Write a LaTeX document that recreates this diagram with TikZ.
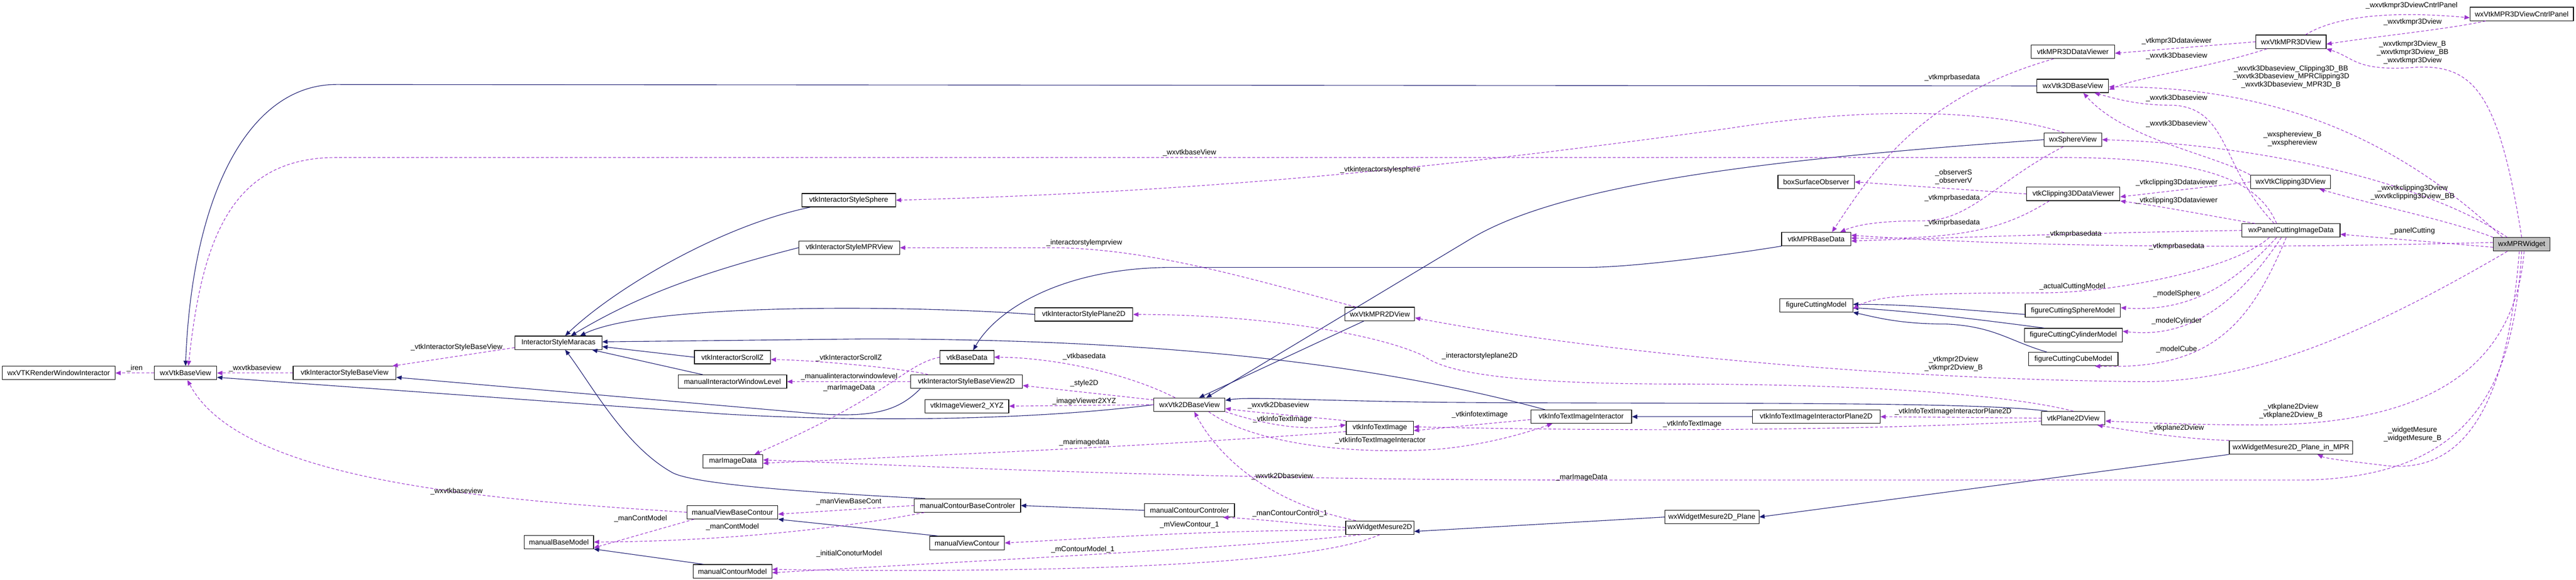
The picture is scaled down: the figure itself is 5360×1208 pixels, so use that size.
\documentclass[tikz,border=0pt]{standalone}
\usepackage{fontspec}
\setmainfont{Liberation Sans}
\usetikzlibrary{arrows.meta}
\definecolor{inhc}{RGB}{25,25,112}
\definecolor{usec}{RGB}{154,50,205}
\definecolor{mwfill}{RGB}{191,191,191}
\begin{document}
\begin{tikzpicture}[x=1pt,y=-1pt,
  cls/.style={draw=black,line width=1.3pt,minimum height=28pt,inner sep=0pt,font=\fontsize{15}{17}\selectfont,fill=white},
  lab/.style={inner sep=0pt,font=\fontsize{15}{17}\selectfont,align=center},
  inh/.style={draw=inhc,line width=1.2pt,-{Triangle[length=11pt,width=9pt]}},
  use/.style={draw=usec,line width=1.2pt,dash pattern=on 6pt off 4pt,-{Triangle[length=11pt,width=9pt]}}]
\useasboundingbox (0,0) rectangle (5360,1208);
% nodes
\node[cls,minimum width=235] (rwi) at (122,777) {wxVTKRenderWindowInteractor};
\node[cls,minimum width=130] (bv) at (386,777) {wxVtkBaseView};
\node[cls,minimum width=214] (isbv) at (717,777) {vtkInteractorStyleBaseView};
\node[cls,minimum width=181] (ism) at (1162,714) {InteractorStyleMaracas};
\node[cls,minimum width=158] (scz) at (1524,744) {vtkInteractorScrollZ};
\node[cls,minimum width=226] (iwl) at (1524,795) {manualInteractorWindowLevel};
\node[cls,minimum width=195] (iss) at (1766,417) {vtkInteractorStyleSphere};
\node[cls,minimum width=210] (ismpr) at (1767,516) {vtkInteractorStyleMPRView};
\node[cls,minimum width=204] (isp2) at (2255,655) {vtkInteractorStylePlane2D};
\node[cls,minimum width=112] (bd) at (2012,744) {vtkBaseData};
\node[cls,minimum width=233] (isbv2) at (2011,795) {vtkInteractorStyleBaseView2D};
\node[cls,minimum width=174] (iv) at (2012,846) {vtkImageViewer2\_XYZ};
\node[cls,minimum width=148] (v2d) at (2475,843) {wxVtk2DBaseView};
\node[cls,minimum width=221] (mcbc) at (2013,1053) {manualContourBaseControler};
\node[cls,minimum width=187] (mcc) at (2475,1063) {manualContourControler};
\node[cls,minimum width=156] (mvc) at (2012,1131) {manualViewContour};
\node[cls,minimum width=124] (mid) at (1525,961) {marImageData};
\node[cls,minimum width=189] (mvbc) at (1524,1067) {manualViewBaseContour};
\node[cls,minimum width=144] (mbm) at (1163,1129) {manualBaseModel};
\node[cls,minimum width=164] (mcm) at (1524,1190) {manualContourModel};
\node[cls,minimum width=145] (mpr2d) at (2871,654) {wxVtkMPR2DView};
\node[cls,minimum width=140] (iti) at (2871,891) {vtkInfoTextImage};
\node[cls,minimum width=210] (itii) at (3290,868) {vtkInfoTextImageInteractor};
\node[cls,minimum width=174] (mpr3ddv) at (4313,108) {vtkMPR3DDataViewer};
\node[cls,minimum width=149] (v3d) at (4313,179) {wxVtk3DBaseView};
\node[cls,minimum width=120] (sph) at (4313,291) {wxSphereView};
\node[cls,minimum width=159] (bso) at (3779,379) {boxSurfaceObserver};
\node[cls,minimum width=194] (c3ddv) at (4314,404) {vtkClipping3DDataViewer};
\node[cls,minimum width=144] (mbd) at (3779,498) {vtkMPRBaseData};
\node[cls,minimum width=152] (fcm) at (3779,636) {figureCuttingModel};
\node[cls,minimum width=198] (fcs) at (4313,647) {figureCuttingSphereModel};
\node[cls,minimum width=204] (fccy) at (4314,698) {figureCuttingCylinderModel};
\node[cls,minimum width=186] (fccu) at (4314,748) {figureCuttingCubeModel};
\node[cls,minimum width=266] (itip2) at (3779,868) {vtkInfoTextImageInteractorPlane2D};
\node[cls,minimum width=132] (p2d) at (4314,871) {vtkPlane2DView};
\node[cls,minimum width=146] (mpr3d) at (4767,87) {wxVtkMPR3DView};
\node[cls,minimum width=215] (cp) at (5247,29) {wxVtkMPR3DViewCntrlPanel};
\node[cls,minimum width=166] (c3d) at (4766,379) {wxVtkClipping3DView};
\node[cls,minimum width=204] (pci) at (4767,480) {wxPanelCuttingImageData};
\node[cls,minimum width=118,fill=mwfill] (mw) at (5247,509) {wxMPRWidget};
\node[cls,minimum width=257] (wm2p) at (4767,932) {wxWidgetMesure2D\_Plane\_in\_MPR};
\node[cls,minimum width=142] (wm2d) at (2871,1099) {wxWidgetMesure2D};
\node[cls,minimum width=196] (wm2dp) at (3562,1077) {wxWidgetMesure2D\_Plane};
% inheritance
\begin{scope}[on background layer/.style={}]
\draw[inh] (v3d.west) -- (700,176) .. controls (520,176) and (400,400) .. (bv.north);
\draw[inh] (v2d.west) .. controls (2150,875) and (1800,880) .. (1500,862) -- ([yshift=-9]bv.east);
\draw[inh] ([xshift=-96]isbv2.south) .. controls (1870,855) and (1820,870) .. (1700,862) -- ([yshift=-9]isbv.east);
\draw[inh] ([xshift=-88]mcbc.north) .. controls (1700,1027) and (1450,1010) .. (1400,985) .. controls (1300,930) and (1230,800) .. ([xshift=14]ism.south);
\draw[inh] ([xshift=-80]iss.south) .. controls (1500,470) and (1280,600) .. ([xshift=14]ism.north);
\draw[inh] (ismpr.west) .. controls (1450,570) and (1320,620) .. ([xshift=26]ism.north);
\draw[inh] (isp2.west) .. controls (1900,636) and (1350,630) .. ([xshift=45]ism.north);
\draw[inh] ([xshift=-75]itii.north) .. controls (2800,740) and (2300,706) .. (1800,706) -- ([yshift=2]ism.east);
\draw[inh] (scz.west) -- ([yshift=-8]ism.east);
\draw[inh] ([xshift=-62]iwl.north) -- ([xshift=70]ism.south);
\draw[inh] ([xshift=-33]mpr2d.south) -- ([xshift=20]v2d.north);
\draw[inh] ([xshift=-54]p2d.north) .. controls (4100,835) and (3500,842) .. (3000,838) .. controls (2700,834) and (2600,826) .. ([yshift=9]v2d.east);
\draw[inh] (sph.west) .. controls (3700,330) and (3250,380) .. (3056,500) -- ([xshift=35]v2d.north);
\draw[inh] ([xshift=-72]mbd.south) .. controls (3600,530) and (3400,557) .. (3300,557) -- (2430,557) .. controls (2200,560) and (2070,650) .. ([xshift=13]bd.north);
\draw[inh] ([yshift=-8]fcs.west) .. controls (4000,638) and (3950,634) .. ([yshift=2]fcm.east);
\draw[inh] ([xshift=-60]fccy.north) .. controls (4150,670) and (4000,650) .. ([yshift=-5]fcm.east);
\draw[inh] ([xshift=-55]fccu.north) .. controls (4180,710) and (4150,680) .. (4050,675) .. controls (3950,675) and (3900,660) .. (fcm.south east);
\draw[inh] (itip2.west) -- (itii.east);
\draw[inh] (wm2p.south west) -- (wm2dp.east);
\draw[inh] (wm2dp.west) -- ([yshift=-8]wm2d.east);
\draw[inh] (mcc.west) -- (mcbc.east);
\draw[inh] ([xshift=-60]mvc.north) -- (mvbc.south east);
\draw[inh] ([xshift=-60]mcm.north) -- (mbm.south east);
% usage
\draw[use] (bv.west) -- (rwi.east) node[lab,pos=0.5,above=2pt] {\_iren};
\draw[use] (isbv.west) -- (bv.east) node[lab,pos=0.5,above=2pt] {\_wxvtkbaseview};
\draw[use] ([yshift=-10]ism.west) -- ([xshift=-8]isbv.north east);
\node[lab] at (950,723) {\_vtkInteractorStyleBaseView};
\draw[use] ([xshift=-30]pci.north) .. controls (4700,380) and (4600,330) .. (4300,328) -- (700,328) .. controls (480,328) and (420,500) .. ([xshift=6]bv.north);
\node[lab] at (2475,318) {\_wxvtkbaseView};
\draw[use] (mvbc.west) .. controls (1000,1040) and (500,1000) .. ([xshift=4]bv.south);
\node[lab] at (950,1024) {\_wxvtkbaseview};
\draw[use] ([xshift=-18]sph.north) .. controls (4150,230) and (3900,220) .. (3600,267) .. controls (3000,350) and (2500,400) .. (iss.east);
\node[lab] at (2872,354) {\_vtkinteractorstylesphere};
\draw[use] ([xshift=-50]mpr2d.north) .. controls (2600,580) and (2400,520) .. (2200,516) -- (ismpr.east);
\node[lab] at (2256,506) {\_interactorstylemprview};
\draw[use] (p2d.north) .. controls (4150,815) and (3800,800) .. (3500,800) .. controls (3100,800) and (3000,770) .. (2960,740) .. controls (2850,690) and (2600,655) .. (isp2.east);
\node[lab] at (3079,742) {\_interactorstyleplane2D};
\draw[use] ([xshift=-30]mw.south) .. controls (4950,680) and (4700,795) .. (4460,795) .. controls (3900,790) and (3300,730) .. ([yshift=-8]mpr2d.east);
\node[lab] at (4065,758) {\_vtkmpr2Dview\\\_vtkmpr2Dview\_B};
\draw[use] ([xshift=-30]v2d.north) .. controls (2350,780) and (2200,745) .. (bd.east);
\node[lab] at (2256,743) {\_vtkbasedata};
\draw[use] (bd.west) .. controls (1880,760) and (1860,820) .. ([xshift=45]mid.north);
\node[lab] at (1767,808) {\_marImageData};
\draw[use] ([xshift=-80]isbv2.north) .. controls (1900,770) and (1700,750) .. ([yshift=-5]scz.east);
\node[lab] at (1766,746) {\_vtkInteractorScrollZ};
\draw[use] (isbv2.west) -- (iwl.east);
\node[lab] at (1767,785) {\_manualinteractorwindowlevel};
\draw[use] ([yshift=10]v2d.west) -- ([yshift=-8]isbv2.east);
\node[lab] at (2256,798) {\_style2D};
\draw[use] (v2d.west) -- (iv.east);
\node[lab] at (2256,836) {\_imageViewer2XYZ};
\draw[use] ([yshift=-8]iti.west) .. controls (2400,930) and (1900,950) .. ([yshift=-4]mid.east);
\node[lab] at (2256,922) {\_marimagedata};
\draw[use] (mw.south) .. controls (5230,800) and (5150,990) .. (4800,1000) -- (3300,1000) .. controls (2500,1000) and (1900,970) .. ([yshift=3]mid.east);
\node[lab] at (3291,995) {\_marImageData};
\draw[use] (iti.north west) .. controls (2700,866) and (2620,860) .. ([yshift=-8]v2d.east);
\node[lab] at (2660,845) {\_wxvtk2Dbaseview};
\draw[use] (v2d.south east) .. controls (2620,880) and (2700,900) .. ([yshift=6]iti.west);
\node[lab] at (2668,874) {\_vtkInfoTextImage};
\draw[use] ([xshift=40]v2d.south) .. controls (2600,920) and (2800,950) .. (3000,935) .. controls (3100,925) and (3180,900) .. ([xshift=-60]itii.south);
\node[lab] at (2872,918) {\_vtkIinfoTextImageInteractor};
\draw[use] ([yshift=-6]itii.west) -- ([yshift=-6]iti.east);
\node[lab] at (3079,864) {\_vtkinfotextimage};
\draw[use] ([yshift=-6]p2d.west) .. controls (3800,900) and (3300,897) .. ([yshift=2]iti.east);
\node[lab] at (3521,883) {\_vtkInfoTextImage};
\draw[use] ([xshift=-50]wm2d.north) .. controls (2650,1050) and (2540,960) .. ([xshift=10]v2d.south);
\node[lab] at (2668,993) {\_wxvtk2Dbaseview};
\draw[use] (wm2d.west) .. controls (2700,1090) and (2600,1080) .. ([xshift=70]mcc.south);
\node[lab] at (2684,1070) {\_manContourControl\_1};
\draw[use] ([yshift=-5]wm2d.west) .. controls (2500,1105) and (2300,1120) .. (mvc.east);
\node[lab] at (2475,1093) {\_mViewContour\_1};
\draw[use] ([xshift=-40]wm2d.south) .. controls (2600,1140) and (2000,1170) .. ([yshift=-3]mcm.east);
\node[lab] at (2253,1145) {\_mContourModel\_1};
\draw[use] (wm2d.south) .. controls (2700,1190) and (2000,1192) .. ([yshift=4]mcm.east);
\node[lab] at (1767,1153) {\_initialConoturModel};
\draw[use] (mcbc.west) -- ([yshift=-4]mvbc.east);
\node[lab] at (1766,1045) {\_manViewBaseCont};
\draw[use] ([xshift=-80]mvbc.south) -- ([yshift=-12]mbm.east);
\node[lab] at (1333,1080) {\_manContModel};
\draw[use] ([xshift=-90]mcbc.south) .. controls (1700,1110) and (1450,1128) .. (mbm.east);
\node[lab] at (1524,1098) {\_manContModel};
% 3D part
\draw[use] (mpr3d.west) -- ([yshift=-3]mpr3ddv.east);
\node[lab] at (4529,86) {\_vtkmpr3Ddataviewer};
\draw[use] ([xshift=-50]mpr3d.south) .. controls (4600,140) and (4450,160) .. ([yshift=-8]v3d.east);
\node[lab] at (4529,117) {\_wxvtk3Dbaseview};
\draw[use] ([xshift=-40]mw.north) .. controls (5000,300) and (4750,180) .. ([yshift=-2]v3d.east);
\node[lab] at (4767,160) {\_wxvtk3Dbaseview\_Clipping3D\_BB\\\_wxvtk3Dbaseview\_MPRClipping3D\\\_wxvtk3Dbaseview\_MPR3D\_B};
\draw[use] ([xshift=-35]pci.north) .. controls (4620,350) and (4640,225) .. (4520,219) .. controls (4450,220) and (4400,205) .. ([xshift=45]v3d.south);
\node[lab] at (4529,205) {\_wxvtk3Dbaseview};
\draw[use] (c3d.north west) .. controls (4600,320) and (4420,290) .. ([xshift=22]v3d.south);
\node[lab] at (4529,258) {\_wxvtk3Dbaseview};
\draw[use] ([xshift=-75]cp.south) .. controls (5100,60) and (4950,75) .. ([yshift=-5]mpr3d.east);
\node[lab] at (5020,46) {\_wxvtkmpr3Dview};
\draw[use] ([xshift=30]mpr3d.north) .. controls (4850,40) and (4950,20) .. ([yshift=-8]cp.west);
\node[lab] at (5018,12) {\_wxvtkmpr3DviewCntrlPanel};
\draw[use] (mw.north) .. controls (5200,200) and (5150,135) .. (5030,140) .. controls (4900,150) and (4900,120) .. (mpr3d.south east);
\node[lab] at (5020,109) {\_wxvtkmpr3Dview\_B\\\_wxvtkmpr3Dview\_BB\\\_wxvtkmpr3Dview};
\draw[use] ([xshift=-30]mw.north) .. controls (5050,380) and (4700,300) .. (sph.east);
\node[lab] at (4770,289) {\_wxsphereview\_B\\\_wxsphereview};
\draw[use] (mw.north west) .. controls (5100,460) and (4950,430) .. ([xshift=60]c3d.south);
\node[lab] at (5020,401) {\_wxvtkclipping3Dview\\\_wxvtkclipping3Dview\_BB};
\draw[use] ([yshift=-6]mw.west) -- ([yshift=-8]pci.east);
\node[lab] at (5020,481) {\_panelCutting};
\draw[use] (c3d.west) -- ([yshift=-6]c3ddv.east);
\node[lab] at (4529,380) {\_vtkclipping3Ddataviewer};
\draw[use] ([xshift=-75]pci.north) .. controls (4600,450) and (4500,430) .. (c3ddv.south east);
\node[lab] at (4529,418) {\_vtkclipping3Ddataviewer};
\draw[use] (c3ddv.west) -- (bso.east);
\node[lab] at (4065,369) {\_observerS\\\_observerV};
\draw[use] ([xshift=-40]mpr3ddv.south) .. controls (4000,200) and (3900,350) .. ([xshift=33]mbd.north);
\node[lab] at (4062,162) {\_vtkmprbasedata};
\draw[use] ([xshift=-20]sph.south) .. controls (4150,380) and (4100,460) .. (4000,460) .. controls (3900,460) and (3860,470) .. ([xshift=50]mbd.north);
\node[lab] at (4062,413) {\_vtkmprbasedata};
\draw[use] ([xshift=-50]c3ddv.south) .. controls (4180,470) and (4100,500) .. ([yshift=2]mbd.east);
\node[lab] at (4062,464) {\_vtkmprbasedata};
\draw[use] (pci.west) .. controls (4500,482) and (4200,490) .. ([yshift=-4]mbd.east);
\node[lab] at (4315,488) {\_vtkmprbasedata};
\draw[use] ([yshift=4]mw.west) .. controls (4800,515) and (4300,520) .. ([yshift=8]mbd.east);
\node[lab] at (4529,513) {\_vtkmprbasedata};
\draw[use] ([xshift=-45]pci.south) .. controls (4650,560) and (4400,610) .. (4250,610) .. controls (4000,610) and (3900,615) .. ([yshift=-8]fcm.east);
\node[lab] at (4312,597) {\_actualCuttingModel};
\draw[use] ([xshift=-30]pci.south) .. controls (4640,600) and (4550,650) .. ([yshift=6]fcs.east);
\node[lab] at (4529,612) {\_modelSphere};
\draw[use] ([xshift=-20]pci.south) .. controls (4650,640) and (4550,705) .. ([yshift=8]fccy.east);
\node[lab] at (4529,669) {\_modelCylinder};
\draw[use] ([xshift=-10]pci.south) .. controls (4680,680) and (4600,770) .. ([xshift=45]fccu.south);
\node[lab] at (4529,728) {\_modelCube};
\draw[use] (p2d.west) -- (itip2.east);
\node[lab] at (4064,857) {\_vtkInfoTextImageInteractorPlane2D};
\draw[use] ([xshift=5]mw.south) .. controls (5230,800) and (5000,885) .. (4700,885) .. controls (4550,885) and (4450,880) .. ([yshift=-6]p2d.east);
\node[lab] at (4767,856) {\_vtkplane2Dview\\\_vtkplane2Dview\_B};
\draw[use] (wm2p.north west) .. controls (4550,915) and (4450,900) .. ([xshift=50]p2d.south);
\node[lab] at (4529,892) {\_vtkplane2Dview};
\draw[use] ([xshift=-5]mw.south) .. controls (5220,800) and (5150,1000) .. (4950,968) .. controls (4880,960) and (4840,955) .. ([xshift=55]wm2p.south);
\node[lab] at (5020,905) {\_widgetMesure\\\_widgetMesure\_B};
\end{scope}
\end{tikzpicture}
\end{document}
